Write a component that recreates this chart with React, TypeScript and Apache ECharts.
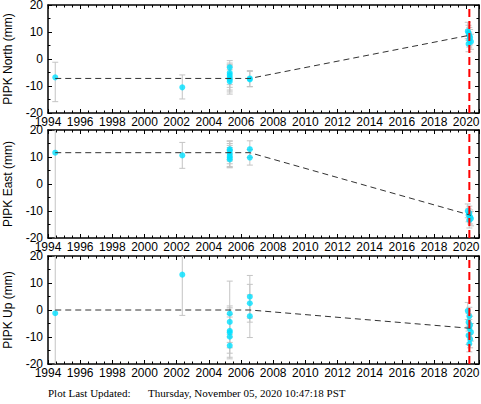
import React, { useEffect, useRef } from "react";
import * as echarts from "echarts";

// [time, value, low, high] in mm
const northData: number[][] = [
  [1994.45, -6.8, -15.8, -1.2],
  [2002.35, -10.5, -14.8, -5.9],
  [2005.3, -3.1, -7.5, -0.6],
  [2005.3, -5.1, -9.5, -1.5],
  [2005.3, -5.9, -10.5, -2.0],
  [2005.3, -6.8, -11.5, -2.5],
  [2005.3, -7.5, -12.2, -3.0],
  [2005.3, -8.3, -13.0, -4.0],
  [2006.55, -7.2, -10.3, -4.3],
  [2006.55, -7.6, -10.2, -4.6],
  [2020.1, 10.3, 7.5, 13.6],
  [2020.15, 9.6, 6.8, 12.5],
  [2020.2, 8.8, 6.0, 11.7],
  [2020.25, 8.0, 5.2, 10.9],
  [2020.2, 7.2, 4.4, 10.0],
  [2020.3, 6.4, 3.6, 9.2],
  [2020.15, 5.6, 2.7, 8.5],
];

const eastData: number[][] = [
  [1994.45, 11.6, -40, 40],
  [2002.35, 10.6, 5.8, 15.4],
  [2005.3, 12.9, 9.0, 16.0],
  [2005.3, 12.3, 8.5, 15.8],
  [2005.3, 11.3, 7.5, 15.0],
  [2005.3, 10.4, 6.5, 14.3],
  [2005.3, 9.8, 6.2, 13.5],
  [2005.3, 9.1, 6.0, 12.5],
  [2006.55, 12.9, 9.8, 16.0],
  [2006.55, 9.8, 7.0, 12.8],
  [2020.1, -10.0, -12.5, -7.4],
  [2020.2, -10.8, -13.3, -8.2],
  [2020.15, -11.5, -14.0, -9.0],
  [2020.25, -12.2, -14.8, -9.6],
  [2020.3, -12.8, -15.5, -10.2],
  [2020.2, -13.4, -16.3, -10.6],
];

const upData: number[][] = [
  [1994.45, -1.2, -40, 40],
  [2002.35, 13.1, -2.0, 28],
  [2005.3, -1.3, -12.0, 10.7],
  [2005.3, -4.4, -10.0, 1.5],
  [2005.3, -7.7, -16.0, 0.8],
  [2005.3, -8.3, -14.0, -2.6],
  [2005.3, -9.9, -18.1, -1.7],
  [2005.3, -13.2, -17.5, -9.0],
  [2006.55, 4.9, -3.0, 12.8],
  [2006.55, 2.5, -4.5, 9.5],
  [2006.55, -2.3, -10.2, 5.6],
  [2020.1, -0.3, -3.5, 2.8],
  [2020.2, -2.3, -5.5, 1.0],
  [2020.15, -4.5, -7.8, -1.2],
  [2020.25, -5.6, -9.0, -2.3],
  [2020.2, -6.8, -10.0, -3.5],
  [2020.3, -8.2, -11.5, -5.0],
  [2020.15, -9.4, -12.8, -6.0],
  [2020.25, -10.8, -14.0, -7.5],
  [2020.2, -12.5, -15.5, -9.2],
];

const northModel: number[][] = [[1994.45, -7.2], [2006.55, -7.2], [2020.3, 8.9]];
const eastModel: number[][] = [[1994.45, 11.6], [2006.55, 11.6], [2020.3, -11.6]];
const upModel: number[][] = [[1994.45, 0], [2006.55, 0], [2020.3, -6.8]];

const panelNames = ["PIPK North (mm)", "PIPK East (mm)", "PIPK Up (mm)"];
const eventYear = 2020.2;
const xMin = 1994;
const xMax = 2020.8;
const yMin = -20;
const yMax = 20;
const updatedLabel = "Plot Last Updated:";
const updatedValue = "Thursday, November 05, 2020 10:47:18 PST";

const FONT = "'Liberation Sans', Arial, Helvetica, sans-serif";

export default function App() {
  const ref = useRef<HTMLDivElement>(null);
  useEffect(() => {
    if (!ref.current) return;
    const chart = echarts.init(ref.current, null, { renderer: "svg" });
    const tops = [5, 130, 256];
    const H = 108;
    const datasets = [northData, eastData, upData];
    const models = [northModel, eastModel, upModel];

    const grids = tops.map((t) => ({
      left: 48,
      top: t,
      width: 431,
      height: H,
      containLabel: false,
      outerBoundsMode: "none",
    }));

    const axisLineStyle = { show: true, lineStyle: { color: "#000", width: 1.5 } };
    const xAxes: any[] = [];
    const yAxes: any[] = [];
    tops.forEach((_, i) => {
      const xBase = {
        gridIndex: i,
        type: "value",
        min: xMin,
        max: xMax,
        interval: 2,
        axisLine: { ...axisLineStyle, onZero: false },
        axisTick: { show: true, inside: true, length: 4, lineStyle: { color: "#000", width: 1 } },
        minorTick: { show: true, splitNumber: 4, length: 2.5, lineStyle: { color: "#000", width: 1 } },
        splitLine: { show: false },
        minorSplitLine: { show: false },
      };
      xAxes.push({
        ...xBase,
        position: "bottom",
        axisLabel: {
          show: true,
          color: "#000",
          fontSize: 12,
          fontFamily: FONT,
          margin: 3,
          showMaxLabel: false,
          hideOverlap: false,
          formatter: (v: number) =>
            Math.abs(v - Math.round(v)) < 1e-6 && Math.round(v) % 2 === 0 ? String(Math.round(v)) : "",
        },
      });
      xAxes.push({ ...xBase, position: "top", axisLabel: { show: false } });
      const yBase = {
        gridIndex: i,
        type: "value",
        min: yMin,
        max: yMax,
        interval: 10,
        axisLine: { ...axisLineStyle, onZero: false },
        axisTick: { show: true, inside: true, length: 4, lineStyle: { color: "#000", width: 1 } },
        minorTick: { show: true, splitNumber: 2, length: 2.5, lineStyle: { color: "#000", width: 1 } },
        splitLine: { show: false },
        minorSplitLine: { show: false },
      };
      yAxes.push({
        ...yBase,
        position: "left",
        name: panelNames[i],
        nameLocation: "middle",
        nameGap: 34,
        nameTextStyle: { color: "#000", fontSize: 12, fontFamily: FONT },
        axisLabel: { show: true, color: "#000", fontSize: 12, fontFamily: FONT, margin: 5 },
      });
      yAxes.push({ ...yBase, position: "right", axisLabel: { show: false } });
    });

    const errorRender = (params: any, api: any) => {
      const x = api.value(0);
      const lo = api.value(2);
      const hi = api.value(3);
      const clo = Math.max(lo, yMin);
      const chi = Math.min(hi, yMax);
      const pTop = api.coord([x, chi]);
      const pBot = api.coord([x, clo]);
      const style = { stroke: "#c4c4c4", lineWidth: 1 };
      const children: any[] = [
        { type: "line", shape: { x1: pTop[0], y1: pTop[1], x2: pBot[0], y2: pBot[1] }, style },
      ];
      if (hi <= yMax)
        children.push({ type: "line", shape: { x1: pTop[0] - 3, y1: pTop[1], x2: pTop[0] + 3, y2: pTop[1] }, style });
      if (lo >= yMin)
        children.push({ type: "line", shape: { x1: pBot[0] - 3, y1: pBot[1], x2: pBot[0] + 3, y2: pBot[1] }, style });
      return { type: "group", children };
    };

    const series: any[] = [];
    datasets.forEach((d, i) => {
      const xi = i * 2;
      const yi = i * 2;
      series.push({
        type: "custom",
        xAxisIndex: xi,
        yAxisIndex: yi,
        data: d,
        encode: { x: 0, y: [2, 3] },
        renderItem: errorRender,
        z: 1,
        silent: true,
      });
      series.push({
        type: "scatter",
        xAxisIndex: xi,
        yAxisIndex: yi,
        data: d.map((r) => [r[0], r[1]]),
        symbol: "circle",
        symbolSize: 6,
        itemStyle: { color: "#00e0ff" },
        z: 2,
        silent: true,
      });
      series.push({
        type: "line",
        xAxisIndex: xi,
        yAxisIndex: yi,
        data: models[i],
        symbol: "none",
        lineStyle: { color: "#333", width: 1, type: [6, 4] },
        z: 3,
        silent: true,
      });
      series.push({
        type: "line",
        xAxisIndex: xi,
        yAxisIndex: yi,
        data: [[eventYear, yMin], [eventYear, yMax]],
        symbol: "none",
        lineStyle: { color: "#ff0000", width: 2, type: [8, 4] },
        z: 4,
        silent: true,
      });
    });

    chart.setOption({
      animation: false,
      backgroundColor: "#fff",
      grid: grids,
      xAxis: xAxes,
      yAxis: yAxes,
      series,
      graphic: [
        {
          type: "text",
          left: 48,
          top: 387,
          style: { text: updatedLabel, fill: "#000", font: "11px 'Liberation Serif', 'Times New Roman', serif" },
        },
        {
          type: "text",
          left: 148,
          top: 387,
          style: { text: updatedValue, fill: "#000", font: "11px 'Liberation Serif', 'Times New Roman', serif" },
        },
      ],
    });
    return () => chart.dispose();
  }, []);
  return <div ref={ref} style={{ position: "fixed", left: 0, top: 0, width: 481, height: 404 }} />;
}
